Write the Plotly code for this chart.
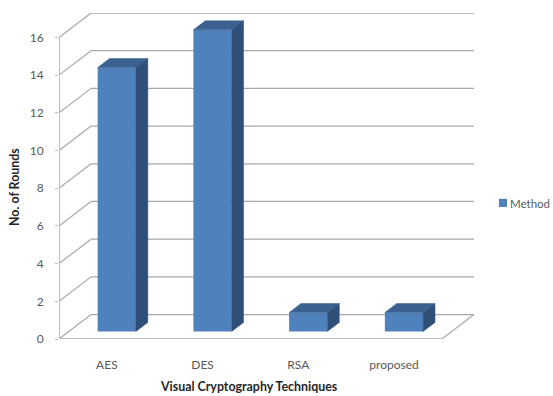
import plotly.graph_objects as go

# Chart data
categories = ["AES", "DES", "RSA", "proposed"]
rounds = [14, 16, 1, 1]
y_ticks = [0, 2, 4, 6, 8, 10, 12, 14, 16]
series_name = "Method"

# Oblique projection: moving one full depth unit shifts a point by these data amounts
DEPTH_X = 0.335
DEPTH_Y = 1.297
BAR_NEAR = 0.31
BAR_FAR = 0.68
BAR_WIDTH = 0.40

FRONT = "#4f81bd"
TOP = "#3a618f"
SIDE = "#2f4f78"
GRID = "#a8a8a8"
AXIS = "#bdbdbd"
TEXT = "#595959"
FONT = "Lato"

X_MIN, X_MAX = -0.5, 3.5


def project(x, y, depth):
    return x + depth * DEPTH_X, y + depth * DEPTH_Y


def line_shape(a, b, color, width):
    return dict(type="line", xref="x", yref="y", layer="below",
                x0=a[0], y0=a[1], x1=b[0], y1=b[1],
                line=dict(color=color, width=width))


shapes = []
# Back wall gridlines and the diagonals along the left wall
for v in y_ticks:
    back_left = project(X_MIN, v, 1)
    shapes.append(line_shape(back_left, project(X_MAX, v, 1), GRID, 1.3))
    shapes.append(line_shape((X_MIN, v), back_left, GRID, 1.2))

# Floor outline and front axis lines
shapes.append(line_shape((X_MAX, 0), project(X_MAX, 0, 1), GRID, 1.2))
shapes.append(line_shape((X_MIN, 0), (X_MAX, 0), AXIS, 2))
shapes.append(line_shape((X_MIN, 0), (X_MIN, y_ticks[-1]), AXIS, 2))

# Compact legend key placed to the right of the plot
shapes.append(dict(type="rect", xref="paper", yref="paper", layer="above",
                   x0=1.060, x1=1.0795, y0=0.405, y1=0.43,
                   fillcolor=FRONT, line=dict(width=0)))

fig = go.Figure()

# Front faces of the bars
fig.add_trace(go.Bar(
    x=[project(i, 0, BAR_NEAR)[0] for i in range(len(categories))],
    y=rounds,
    base=project(0, 0, BAR_NEAR)[1],
    width=BAR_WIDTH,
    name=series_name,
    marker=dict(color=FRONT, line=dict(width=0)),
    showlegend=False,
))


def face(points, color):
    xs, ys = zip(*points)
    fig.add_trace(go.Scatter(
        x=list(xs) + [xs[0]], y=list(ys) + [ys[0]],
        mode="lines", fill="toself", fillcolor=color,
        line=dict(color=color, width=0.5),
        showlegend=False, hoverinfo="skip",
    ))


# Top and side faces of each bar
for i, v in enumerate(rounds):
    left, right = i - BAR_WIDTH / 2, i + BAR_WIDTH / 2
    face([project(left, v, BAR_NEAR), project(right, v, BAR_NEAR),
          project(right, v, BAR_FAR), project(left, v, BAR_FAR)], TOP)
    face([project(right, 0, BAR_NEAR), project(right, v, BAR_NEAR),
          project(right, v, BAR_FAR), project(right, 0, BAR_FAR)], SIDE)

fig.update_layout(
    width=553, height=396,
    margin=dict(l=59, r=79, t=13, b=57, autoexpand=False),
    paper_bgcolor="white", plot_bgcolor="white",
    font=dict(family=FONT, size=12, color=TEXT),
    shapes=shapes,
    showlegend=False,
    xaxis=dict(range=[X_MIN, X_MAX + DEPTH_X], tickmode="array",
               tickvals=list(range(len(categories))), ticktext=categories,
               showgrid=False, zeroline=False, showline=False,
               ticks="outside", ticklen=15, tickcolor="rgba(0,0,0,0)",
               tickfont=dict(family=FONT, size=12, color=TEXT)),
    yaxis=dict(range=[0, y_ticks[-1] + DEPTH_Y], tickmode="array",
               tickvals=y_ticks, showgrid=False, zeroline=False, showline=False,
               ticks="outside", ticklen=3, tickcolor=AXIS, tickwidth=1,
               ticklabelstandoff=9,
               tickfont=dict(family=FONT, size=12, color=TEXT)),
    annotations=[
        dict(text="<b>Visual Cryptography Techniques</b>", xref="paper", yref="paper",
             x=0.457, y=-0.147, xanchor="center", yanchor="middle", showarrow=False,
             font=dict(family=FONT, size=12.4, color="#262626")),
        dict(text="<b>No. of Rounds</b>", xref="paper", yref="paper",
             x=-0.107, y=0.465, xanchor="center", yanchor="middle", showarrow=False,
             textangle=-90, font=dict(family=FONT, size=12.4, color="#262626")),
        dict(text=series_name, xref="paper", yref="paper",
             x=1.083, y=0.417, xanchor="left", yanchor="middle", showarrow=False,
             font=dict(family=FONT, size=11.5, color=TEXT)),
    ],
)

fig.write_html("out.html", config=dict(displayModeBar=False))
